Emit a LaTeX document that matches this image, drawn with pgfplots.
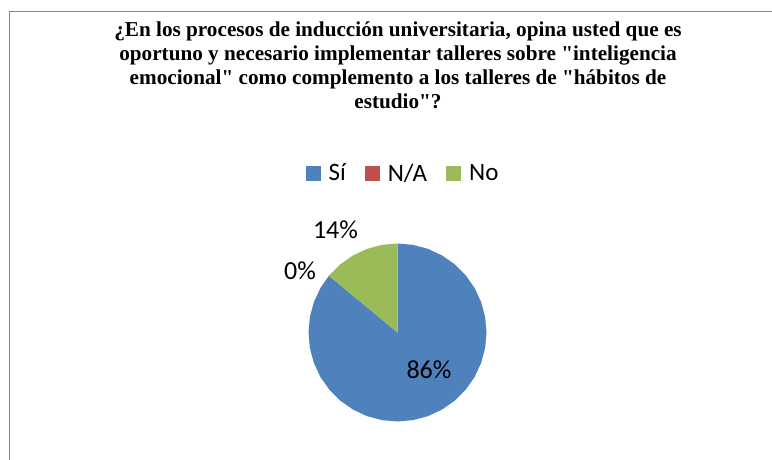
\documentclass[border=0pt]{standalone}
\usepackage{fontspec}
\setmainfont{Carlito}
\newfontfamily\titlefont{Liberation Serif}
\usepackage{pgfplots}
\pgfplotsset{compat=1.18}
\usepgfplotslibrary{polar}
\definecolor{siBlue}{RGB}{79,129,189}
\definecolor{naRed}{RGB}{192,80,77}
\definecolor{noGreen}{RGB}{155,187,89}
\definecolor{frameGray}{RGB}{134,134,134}

\begin{document}
\begin{tikzpicture}[x=1bp, y=-1bp]
  \useasboundingbox (0,0) rectangle (772,460);
  \fill[white] (0,0) rectangle (772,460);
  % chart area border (runs off the right and bottom edges)
  \draw[frameGray, line width=1.3bp] (9.5,480) -- (9.5,11.5) -- (790,11.5);

  % title
  \begin{scope}[every node/.style={anchor=base, inner sep=0pt, font=\titlefont\bfseries\fontsize{21.2bp}{24bp}\selectfont}]
    \node at (398,37)  {¿En los procesos de inducción universitaria, opina usted que es};
    \node at (398,61)  {oportuno y necesario implementar talleres sobre "inteligencia};
    \node at (398,85)  {emocional" como complemento a los talleres de "hábitos de};
    \node at (398,109) {estudio"?};
  \end{scope}

  \begin{axis}[
      at={(397.5bp,-332.5bp)}, anchor=center,
      x=89bp, y=89bp,
      xmin=-1, xmax=1, ymin=-1, ymax=1,
      hide axis, clip=false,
      data cs=polar,
      legend columns=3,
      legend style={at={(axis cs:0.062,1.79)}, anchor=center, draw=none, fill=none,
        font=\fontsize{25bp}{30bp}\selectfont,
        /tikz/every even column/.append style={column sep=17bp}},
      legend image code/.code={\fill[#1, draw=none] (0bp,-7.5bp) rectangle (15bp,7.5bp);
        \path (21bp,0bp);},
    ]
    % Sí = 86 %  -> 309.6 deg clockwise from 12 o'clock
    \addplot[draw=none, fill=siBlue] coordinates {
      (0,0) (90,1) (80,1) (70,1) (60,1) (50,1) (40,1) (30,1) (20,1) (10,1) (0,1)
      (-10,1) (-20,1) (-30,1) (-40,1) (-50,1) (-60,1) (-70,1) (-80,1) (-90,1)
      (-100,1) (-110,1) (-120,1) (-130,1) (-140,1) (-150,1) (-160,1) (-170,1)
      (-180,1) (-190,1) (-200,1) (-210,1) (-219.6,1) (0,0)
    } \closedcycle;
    \addlegendentry{Sí}
    % N/A = 0 %
    \addlegendimage{draw=none, fill=naRed}
    \addlegendentry{N/A}
    % No = 14 % -> 50.4 deg
    \addplot[draw=none, fill=noGreen] coordinates {
      (0,0) (140.4,1) (130,1) (120,1) (110,1) (100,1) (90,1) (0,0)
    } \closedcycle;
    \addlegendentry{No}
  \end{axis}

  % data labels
  \begin{scope}[every node/.style={anchor=base, inner sep=0pt, font=\fontsize{26bp}{30bp}\selectfont}]
    \node at (429,379)   {86\%};
    \node at (335.5,239) {14\%};
    \node at (300,280)   {0\%};
  \end{scope}
\end{tikzpicture}
\end{document}
